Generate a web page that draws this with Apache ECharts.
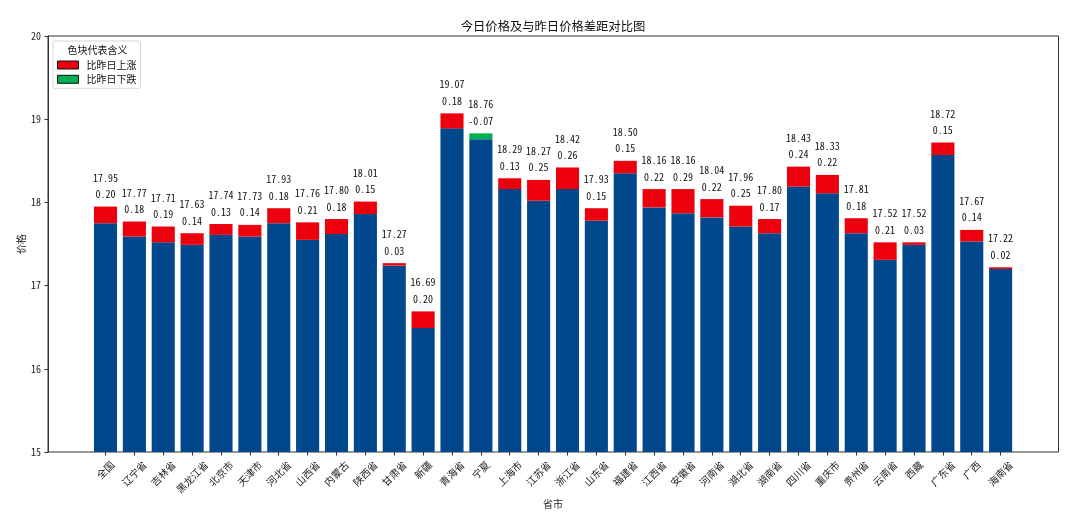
<!DOCTYPE html>
<html><head><meta charset="utf-8">
<style>html,body{margin:0;padding:0;background:#fff}#c{width:1080px;height:523px}</style>
<script src="https://cdn.jsdelivr.net/npm/echarts@6/dist/echarts.min.js"></script>
</head><body><div id="c"></div>
<script>
const categories = ['全国','辽宁省','吉林省','黑龙江省','北京市','天津市','河北省','山西省','内蒙古','陕西省','甘肃省','新疆','青海省','宁夏','上海市','江苏省','浙江省','山东省','福建省','江西省','安徽省','河南省','湖北省','湖南省','四川省','重庆市','贵州省','云南省','西藏','广东省','广西','海南省'];
const todayPrice = [17.95,17.77,17.71,17.63,17.74,17.73,17.93,17.76,17.80,18.01,17.27,16.69,19.07,18.76,18.29,18.27,18.42,17.93,18.50,18.16,18.16,18.04,17.96,17.80,18.43,18.33,17.81,17.52,17.52,18.72,17.67,17.22];
const priceDiff = [0.20,0.18,0.19,0.14,0.13,0.14,0.18,0.21,0.18,0.15,0.03,0.20,0.18,-0.07,0.13,0.25,0.26,0.15,0.15,0.22,0.29,0.22,0.25,0.17,0.24,0.22,0.18,0.21,0.03,0.15,0.14,0.02];
const yTicks = [15,20];

const FONT = '"Noto Sans CJK SC"';
const MONO = '"Noto Sans Mono CJK SC","DejaVu Sans Mono"';
const base = todayPrice.map((v,i)=> priceDiff[i]>0 ? +(v-priceDiff[i]).toFixed(2) : v);
const up = priceDiff.map(d=> d>0 ? d : null);
const down = priceDiff.map(d=> d<0 ? -d : null);
const lbl = {
  show:true, position:'top', distance:4, color:'#111', fontFamily:MONO, fontSize:10, lineHeight:16.5,
  formatter:p=> todayPrice[p.dataIndex].toFixed(2)+'\n'+priceDiff[p.dataIndex].toFixed(2)
};
const rich = {};
[2,3,4].forEach(n=>{ rich['n'+n]={fontFamily:FONT,fontSize:10,color:'#222',padding:[5*n,5*n,0,0]}; });

const chart = echarts.init(document.getElementById('c'),null,{renderer:'canvas'});
chart.setOption({
  animation:false,
  backgroundColor:'#fff',
  title:[
    {text:'今日价格及与昨日价格差距对比图',left:553,top:20,textAlign:'center',padding:0,
     textStyle:{fontFamily:FONT,fontSize:12.3,fontWeight:'normal',color:'#111'}},
    {text:'色块代表含义',left:97.5,top:45.5,textAlign:'center',padding:0,z:20,
     textStyle:{fontFamily:FONT,fontSize:10,fontWeight:'normal',color:'#111'}}
  ],
  legend:{
    left:53,top:41,orient:'vertical',selectedMode:false,icon:'rect',
    data:['比昨日上涨','比昨日下跌'],
    padding:[19,4,4,4],itemWidth:21,itemHeight:8,itemGap:4.3,
    backgroundColor:'#fff',borderColor:'#d5d5d5',borderWidth:1,borderRadius:2,
    itemStyle:{borderColor:'#111',borderWidth:1},
    textStyle:{fontFamily:FONT,fontSize:10,color:'#111',padding:[0,0,0,3]}
  },
  grid:[
    {left:48,right:21.5,top:36,bottom:71,show:true,borderColor:'#333',borderWidth:1,backgroundColor:'transparent'},
    {left:91.06,width:924,top:36,bottom:71}
  ],
  xAxis:[
    {gridIndex:0,type:'value',min:0,max:1,show:false},
    {gridIndex:1,type:'category',data:categories,
     axisLine:{show:false},
     axisTick:{show:true,alignWithLabel:true,length:3.5,lineStyle:{color:'#333'}},
     axisLabel:{interval:0,rotate:45,align:'center',verticalAlign:'middle',margin:11,hideOverlap:false,
       formatter:v=>'{n'+v.length+'|'+v+'}',rich},
     name:'省市',nameLocation:'middle',nameGap:47,nameMoveOverlap:false,
     nameTextStyle:{fontFamily:FONT,fontSize:10,color:'#222'}}
  ],
  yAxis:[
    {gridIndex:0,type:'value',min:yTicks[0],max:yTicks[1],interval:1,
     axisLine:{show:true,lineStyle:{color:'#333'}},
     axisTick:{show:true,length:3.5,lineStyle:{color:'#333'}},
     splitLine:{show:false},
     axisLabel:{fontFamily:MONO,fontSize:10,color:'#222',margin:7},
     name:'价格',nameLocation:'middle',nameGap:22,nameRotate:90,nameMoveOverlap:false,
     nameTextStyle:{fontFamily:FONT,fontSize:10,color:'#222'}},
    {gridIndex:1,type:'value',min:yTicks[0],max:yTicks[1],show:false}
  ],
  series:[
    {name:'今日基准',type:'bar',xAxisIndex:1,yAxisIndex:1,stack:'p',data:base,barWidth:'80%',
     itemStyle:{color:'#00478C'}},
    {name:'比昨日上涨',type:'bar',xAxisIndex:1,yAxisIndex:1,stack:'p',data:up,barWidth:'80%',
     itemStyle:{color:'#EC000E'},label:lbl},
    {name:'比昨日下跌',type:'bar',xAxisIndex:1,yAxisIndex:1,stack:'p',data:down,barWidth:'80%',
     itemStyle:{color:'#00B050'},label:lbl}
  ]
});
</script></body></html>
